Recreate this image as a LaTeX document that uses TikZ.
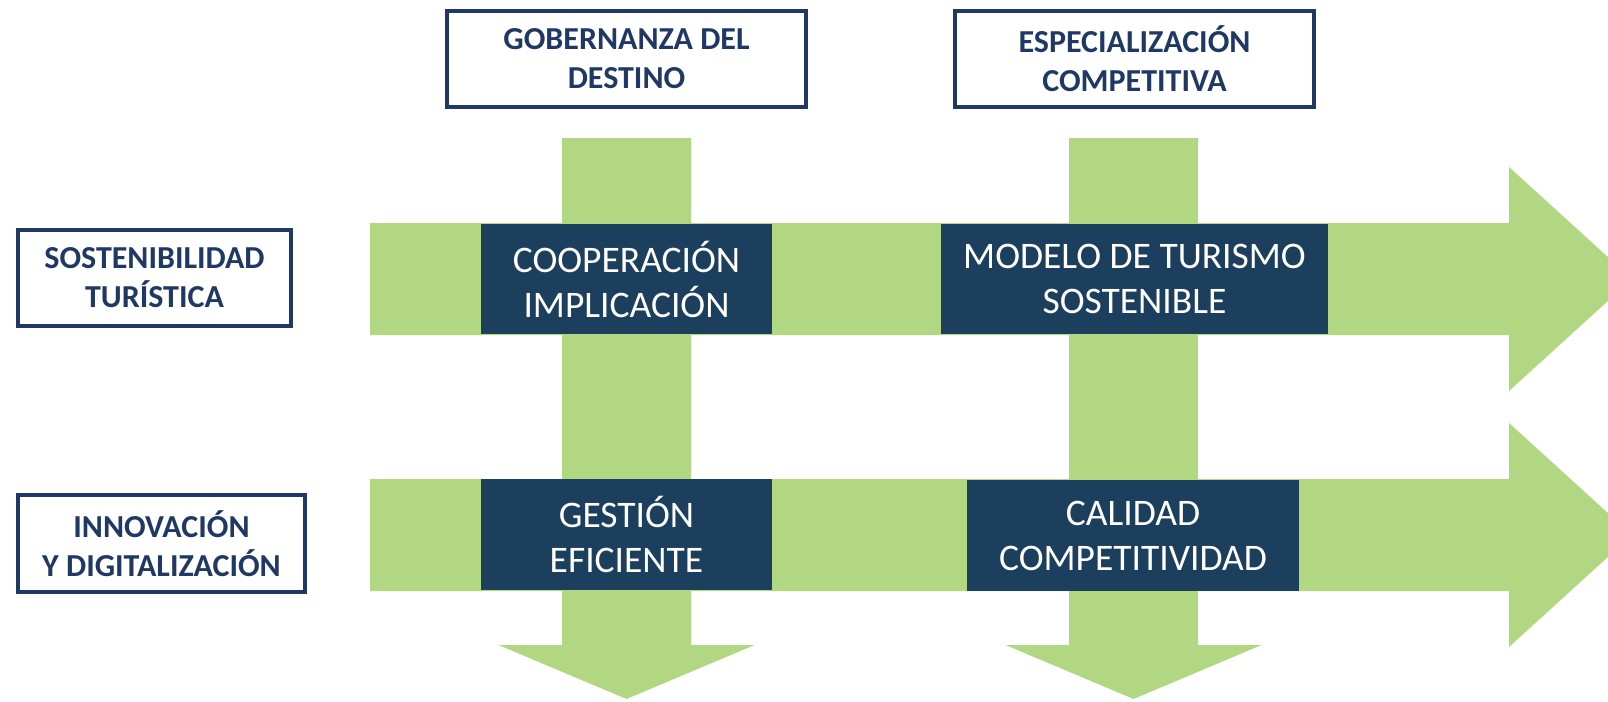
\documentclass[tikz,border=0pt]{standalone}
\usepackage{fontspec}
\setmainfont{Carlito}
\definecolor{navy}{RGB}{31,56,100}
\definecolor{darkbox}{RGB}{11,47,89}
\definecolor{arrowgreen}{RGB}{177,215,130}
\begin{document}
\begin{tikzpicture}[x=1pt,y=-1pt,
  labelbox/.style={draw=navy, line width=4pt, fill=white, text=navy,
    font=\bfseries\fontsize{32}{39}\selectfont, align=center, inner sep=0pt},
  darkbox/.style={fill=darkbox, fill opacity=0.9, text opacity=1, text=white,
    font=\fontsize{37.5}{45}\selectfont, align=center, inner sep=0pt},
  greenarrow/.style={fill=arrowgreen, draw=none}]
\useasboundingbox (0,0) rectangle (1608,701);
\clip (0,0) rectangle (1608,701);
% horizontal arrows
\foreach \c in {279,535}{
  \fill[greenarrow] (370,\c-56) -- (1509,\c-56) -- (1509,\c-112) -- (1632,\c)
    -- (1509,\c+112) -- (1509,\c+56) -- (370,\c+56) -- cycle;
}
% vertical arrows
\foreach \c in {626.5,1133.5}{
  \fill[greenarrow] (\c-64.5,138) -- (\c+64.5,138) -- (\c+64.5,645) -- (\c+128,645)
    -- (\c,699) -- (\c-128,645) -- (\c-64.5,645) -- cycle;
}
% header boxes
\node[labelbox, minimum width=359pt, minimum height=96pt] (gob) at (626.5,59) {GOBERNANZA DEL\\DESTINO};
\node[labelbox, minimum width=359pt, minimum height=96pt] (esp) at (1134.5,59) {ESPECIALIZACIÓN\\COMPETITIVA};
\node[labelbox, minimum width=273pt, minimum height=96pt] (sos) at (154.5,278) {SOSTENIBILIDAD\\TURÍSTICA};
\node[labelbox, minimum width=287pt, minimum height=97pt] (inn) at (161.5,543.5) {INNOVACIÓN\\Y DIGITALIZACIÓN};
% dark boxes
\node[darkbox, minimum width=291pt, minimum height=110pt] (coop) at (626.5,279) {COOPERACIÓN\\IMPLICACIÓN};
\node[darkbox, minimum width=387pt, minimum height=110pt] (mod) at (1134.5,279) {MODELO DE TURISMO\\SOSTENIBLE};
\node[darkbox, minimum width=291pt, minimum height=111pt] (ges) at (626.5,534.5) {GESTIÓN\\EFICIENTE};
\node[darkbox, minimum width=332pt, minimum height=111pt] (cal) at (1133,535.5) {CALIDAD\\COMPETITIVIDAD};
\end{tikzpicture}
\end{document}
